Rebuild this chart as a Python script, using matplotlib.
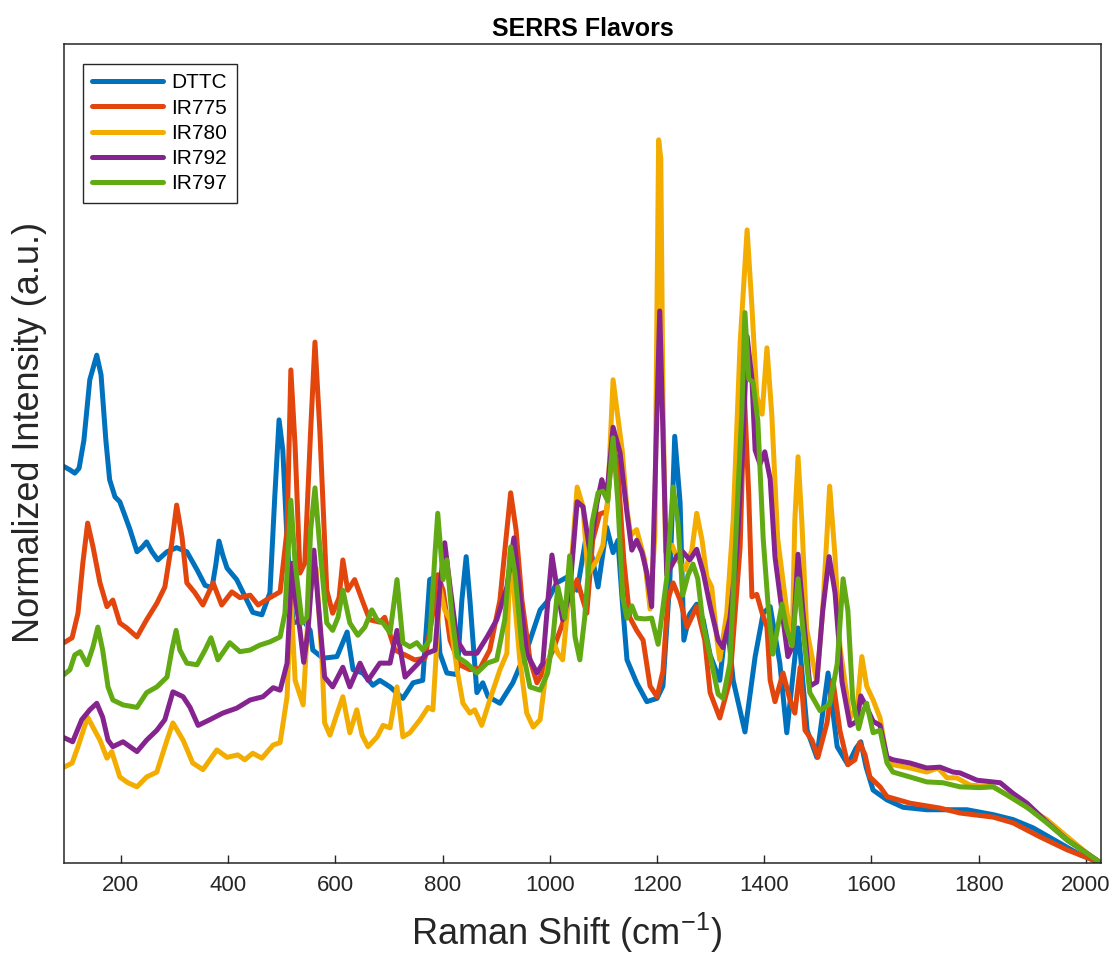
import matplotlib
matplotlib.use("Agg")
import matplotlib.pyplot as plt

plt.rcParams['font.family'] = ['Liberation Sans', 'DejaVu Sans']
plt.rcParams['mathtext.fontset'] = 'custom'
plt.rcParams['mathtext.rm'] = 'Liberation Sans'

# Raman shift (cm-1) / normalized intensity (axis height = 100)
dttc_x = [94, 105, 114, 122, 131, 142, 155, 163, 172, 179, 189, 198, 207, 217, 230, 239, 248, 258, 269, 286,
          304, 323, 342, 357, 370, 377, 383, 390, 398, 416, 428, 446, 463, 478, 487, 495, 502, 510, 521, 540,
          553, 558, 577, 603, 622, 633, 651, 670, 683, 702, 726, 745, 763, 776, 786, 795, 808, 827, 836, 844,
          851, 864, 875, 885, 907, 931, 957, 982, 995, 1013, 1032, 1051, 1069, 1080, 1090, 1106, 1118, 1127,
          1135, 1144, 1162, 1181, 1200, 1211, 1224, 1233, 1243, 1250, 1261, 1274, 1286, 1299, 1317, 1330, 1342,
          1364, 1383, 1398, 1411, 1429, 1442, 1463, 1480, 1498, 1519, 1536, 1556, 1571, 1580, 1590, 1603, 1629,
          1659, 1703, 1778, 1827, 1864, 1901, 1952, 1989, 2028]
dttc_y = [48.4, 48.0, 47.6, 48.2, 51.6, 59.0, 62.0, 59.6, 51.6, 46.8, 44.7, 44.1, 42.5, 40.7, 38.0, 38.5, 39.2,
          38.0, 37.0, 38.0, 38.5, 38.0, 35.8, 33.9, 33.6, 36.4, 39.3, 37.6, 36.0, 34.6, 33.0, 30.6, 30.3, 33.0,
          44.7, 54.1, 50.4, 39.4, 29.3, 29.7, 28.4, 26.0, 25.0, 25.2, 28.2, 23.6, 23.2, 21.7, 22.3, 21.5, 20.1,
          22.0, 22.3, 34.6, 34.9, 25.6, 23.2, 23.0, 32.1, 37.4, 32.1, 20.8, 22.0, 20.3, 19.5, 22.0, 26.0, 30.9,
          31.9, 34.2, 34.9, 33.3, 40.3, 37.0, 33.7, 41.0, 37.9, 39.4, 32.1, 24.8, 22.0, 19.7, 20.1, 21.6, 34.7,
          52.1, 44.0, 27.2, 30.4, 31.6, 29.7, 25.4, 22.3, 30.0, 22.3, 16.0, 25.2, 30.5, 31.3, 24.4, 15.9, 28.7,
          16.2, 12.9, 23.2, 14.2, 12.0, 14.0, 14.8, 11.7, 8.9, 7.7, 6.8, 6.5, 6.5, 5.9, 5.3, 4.3, 2.4, 1.0, 0.0]

ir775_x = [94, 109, 120, 129, 138, 148, 161, 174, 185, 198, 211, 230, 248, 267, 282, 295, 304, 314, 323, 338,
           353, 372, 388, 407, 422, 441, 456, 478, 497, 510, 517, 525, 534, 543, 554, 562, 571, 584, 595, 607,
           614, 623, 636, 650, 664, 683, 692, 711, 730, 748, 767, 780, 791, 801, 814, 832, 851, 870, 888, 907,
           918, 927, 937, 948, 963, 976, 991, 1006, 1023, 1037, 1051, 1060, 1069, 1080, 1093, 1106, 1118, 1127,
           1138, 1149, 1162, 1174, 1187, 1200, 1211, 1220, 1230, 1243, 1256, 1274, 1289, 1299, 1317, 1336, 1355,
           1363, 1371, 1377, 1386, 1396, 1405, 1411, 1420, 1435, 1448, 1457, 1467, 1476, 1489, 1500, 1517, 1528,
           1541, 1556, 1569, 1578, 1588, 1597, 1616, 1629, 1672, 1728, 1765, 1827, 1864, 1914, 1965, 2028]
ir775_y = [26.9, 27.5, 30.5, 36.6, 41.5, 38.6, 34.2, 31.3, 32.1, 29.3, 28.7, 27.6, 29.7, 31.7, 33.7, 39.1, 43.7,
           39.8, 34.2, 33.0, 31.5, 34.2, 31.5, 33.1, 32.4, 32.7, 31.5, 32.4, 33.1, 40.7, 60.2, 50.8, 35.4, 36.6,
           52.9, 63.6, 52.9, 33.3, 30.5, 32.4, 37.0, 33.3, 34.6, 32.1, 29.7, 29.4, 30.0, 26.0, 25.4, 24.8, 25.0,
           29.7, 35.2, 33.3, 27.2, 24.2, 23.6, 23.8, 26.0, 32.1, 39.4, 45.2, 40.7, 32.1, 24.8, 22.0, 23.8, 26.0,
           29.1, 32.1, 34.6, 32.5, 30.5, 39.4, 42.6, 42.9, 51.6, 48.0, 37.0, 30.0, 28.4, 27.2, 21.6, 20.3, 23.4,
           32.1, 34.2, 32.1, 28.8, 31.3, 27.2, 20.8, 17.7, 22.3, 38.6, 57.0, 45.0, 32.5, 32.8, 30.5, 28.8, 22.3,
           19.7, 23.2, 19.9, 18.3, 23.9, 16.2, 15.0, 12.9, 17.1, 22.3, 16.2, 12.0, 12.6, 14.7, 13.2, 10.5, 9.3,
           8.1, 7.3, 6.7, 6.1, 5.6, 4.9, 3.2, 1.6, 0.0]

ir780_x = [94, 109, 120, 138, 151, 161, 174, 183, 198, 213, 230, 248, 267, 286, 297, 316, 334, 353, 379, 398,
           418, 431, 446, 463, 484, 497, 510, 517, 525, 540, 551, 564, 575, 580, 590, 602, 614, 627, 640, 650,
           661, 678, 689, 702, 715, 726, 739, 758, 773, 782, 791, 795, 804, 814, 827, 838, 851, 860, 873, 888,
           907, 920, 926, 931, 944, 957, 969, 982, 991, 1006, 1015, 1024, 1037, 1051, 1062, 1071, 1088, 1099,
           1108, 1118, 1125, 1135, 1144, 1151, 1162, 1177, 1187, 1196, 1200, 1203, 1207, 1211, 1216, 1228, 1239,
           1252, 1265, 1274, 1284, 1293, 1302, 1312, 1317, 1330, 1342, 1355, 1368, 1377, 1386, 1396, 1405, 1414,
           1425, 1442, 1452, 1457, 1463, 1470, 1479, 1498, 1509, 1522, 1532, 1541, 1560, 1573, 1582, 1591, 1603,
           1616, 1629, 1640, 1672, 1703, 1724, 1741, 1759, 1784, 1827, 1858, 1890, 1927, 1965, 2002, 2028]
ir780_y = [11.7, 12.2, 14.2, 17.8, 16.2, 15.0, 12.8, 13.6, 10.5, 9.8, 9.3, 10.5, 11.1, 15.0, 17.1, 15.0, 12.2,
           11.4, 13.8, 12.9, 13.2, 12.6, 13.4, 12.8, 14.4, 14.7, 20.3, 32.5, 22.3, 19.3, 32.5, 36.0, 25.0, 17.1,
           15.6, 18.0, 20.3, 15.9, 18.7, 15.6, 14.2, 15.4, 16.8, 16.5, 21.5, 15.4, 15.9, 17.5, 19.0, 18.7, 28.8,
           33.7, 30.9, 29.7, 23.6, 19.5, 18.3, 18.7, 16.8, 19.9, 23.6, 25.6, 37.9, 34.6, 24.8, 18.3, 16.6, 17.5,
           22.3, 27.2, 25.6, 24.8, 33.7, 45.9, 43.5, 35.2, 37.0, 38.8, 44.3, 59.0, 55.4, 50.4, 43.1, 40.0, 40.7,
           37.0, 31.0, 40.0, 68.7, 88.3, 86.0, 56.5, 38.0, 38.8, 37.0, 35.8, 38.2, 42.7, 39.4, 34.9, 33.7, 27.2,
           24.8, 30.5, 41.8, 63.5, 77.3, 67.9, 57.0, 54.8, 62.9, 54.8, 39.6, 30.8, 26.5, 41.8, 49.6, 41.8, 28.6,
           22.1, 30.8, 46.0, 37.4, 26.5, 17.7, 19.0, 25.2, 21.6, 19.9, 17.7, 12.6, 12.0, 11.6, 11.1, 11.6, 10.4,
           10.4, 9.5, 9.3, 8.1, 6.8, 5.3, 3.2, 1.2, 0.0]

ir792_x = [94, 110, 127, 142, 155, 166, 176, 185, 204, 230, 248, 267, 282, 297, 316, 329, 344, 366, 390, 416,
           441, 465, 484, 497, 510, 519, 525, 534, 541, 549, 560, 567, 580, 595, 614, 627, 646, 661, 683, 702,
           715, 730, 752, 771, 786, 795, 804, 814, 827, 842, 864, 883, 901, 920, 933, 944, 957, 976, 987, 996,
           1004, 1013, 1024, 1037, 1051, 1062, 1075, 1088, 1097, 1106, 1118, 1131, 1144, 1153, 1162, 1172, 1181,
           1190, 1196, 1205, 1212, 1218, 1237, 1248, 1261, 1274, 1286, 1299, 1314, 1323, 1336, 1349, 1360, 1368,
           1377, 1383, 1392, 1401, 1411, 1420, 1433, 1444, 1453, 1463, 1472, 1485, 1498, 1509, 1521, 1532, 1545,
           1560, 1573, 1580, 1591, 1603, 1616, 1629, 1640, 1672, 1703, 1728, 1752, 1765, 1797, 1840, 1864, 1890,
           1927, 1965, 2028]
ir792_y = [15.3, 14.8, 17.5, 18.7, 19.5, 17.8, 15.0, 14.2, 14.8, 13.6, 15.0, 16.2, 17.5, 20.9, 20.3, 19.0, 16.8,
           17.5, 18.3, 18.9, 19.9, 20.3, 21.4, 21.1, 24.4, 36.6, 32.5, 28.4, 24.5, 28.4, 38.2, 32.5, 22.7, 21.5,
           23.9, 21.5, 24.4, 22.3, 24.4, 24.4, 28.4, 22.7, 24.2, 25.6, 26.0, 33.7, 39.1, 33.7, 27.2, 25.6, 25.6,
           27.6, 29.7, 33.7, 39.7, 33.0, 25.6, 23.2, 24.4, 31.7, 37.6, 33.7, 29.7, 33.0, 44.1, 43.5, 37.9, 44.0,
           46.8, 44.7, 53.2, 50.1, 42.7, 38.2, 39.4, 37.9, 35.4, 31.3, 45.9, 67.4, 50.0, 35.2, 37.5, 38.0, 37.0,
           38.3, 35.5, 31.4, 27.2, 26.3, 29.9, 38.2, 50.8, 64.3, 59.1, 50.4, 48.7, 50.2, 46.9, 37.4, 30.8, 25.2,
           26.5, 37.7, 30.8, 21.6, 22.1, 30.8, 37.4, 33.0, 22.1, 16.8, 17.3, 20.4, 19.0, 17.3, 16.8, 12.9, 12.6,
           12.2, 11.6, 11.7, 11.1, 11.0, 10.1, 9.8, 8.5, 7.3, 5.0, 2.8, 0.0]

ir797_x = [94, 105, 114, 124, 137, 148, 157, 166, 176, 185, 204, 230, 248, 267, 286, 295, 303, 310, 323, 342,
           357, 368, 381, 403, 422, 441, 459, 478, 497, 506, 517, 525, 538, 547, 554, 562, 571, 584, 595, 605,
           614, 627, 642, 655, 668, 678, 689, 702, 715, 726, 739, 752, 763, 776, 786, 791, 801, 808, 817, 827,
           845, 864, 883, 901, 916, 927, 935, 948, 963, 982, 996, 1006, 1015, 1028, 1037, 1047, 1056, 1065,
           1079, 1090, 1099, 1108, 1118, 1127, 1136, 1144, 1153, 1162, 1177, 1190, 1202, 1218, 1230, 1239, 1248,
           1258, 1267, 1276, 1286, 1299, 1314, 1323, 1336, 1349, 1358, 1364, 1371, 1379, 1388, 1398, 1407, 1416,
           1433, 1442, 1452, 1463, 1472, 1485, 1504, 1522, 1536, 1547, 1556, 1565, 1576, 1584, 1591, 1603, 1616,
           1629, 1640, 1672, 1703, 1733, 1765, 1802, 1827, 1858, 1890, 1927, 1965, 2028]
ir797_y = [23.0, 23.6, 25.4, 25.8, 24.2, 26.4, 28.8, 26.0, 21.5, 19.9, 19.3, 19.0, 20.8, 21.5, 22.7, 26.0, 28.4,
           26.0, 24.4, 24.2, 26.0, 27.5, 24.8, 26.9, 25.8, 26.0, 26.6, 27.0, 27.6, 30.5, 44.3, 36.6, 29.3, 30.0,
           40.7, 45.8, 38.6, 29.3, 28.4, 30.0, 33.3, 29.3, 27.8, 28.8, 30.9, 29.7, 29.3, 28.1, 34.6, 26.9, 26.4,
           26.9, 26.0, 27.2, 37.9, 42.7, 34.6, 37.0, 30.5, 25.2, 24.4, 23.2, 24.4, 24.8, 29.7, 38.6, 35.4, 26.4,
           21.5, 21.1, 23.2, 27.6, 33.7, 29.9, 37.5, 27.6, 24.8, 29.9, 41.6, 45.2, 45.4, 44.2, 51.9, 44.0, 32.4,
           29.9, 31.4, 29.9, 29.8, 29.9, 26.7, 34.7, 45.9, 41.6, 32.7, 35.2, 36.5, 34.7, 29.1, 25.3, 20.6, 20.1,
           24.4, 42.7, 54.9, 67.2, 59.1, 58.7, 54.0, 39.6, 31.6, 25.5, 31.6, 28.6, 26.5, 34.7, 28.6, 20.8, 18.6,
           19.4, 24.3, 34.7, 30.8, 19.9, 16.4, 18.5, 19.5, 15.9, 16.2, 12.2, 11.1, 10.5, 9.9, 9.8, 9.3, 9.2, 9.3,
           8.1, 6.8, 4.9, 2.8, 0.0]

names = ['DTTC', 'IR775', 'IR780', 'IR792', 'IR797']
colors = ['#0072BD', '#E2460C', '#F2AD00', '#86248F', '#62AA14']
series = [(dttc_x, dttc_y), (ir775_x, ir775_y), (ir780_x, ir780_y), (ir792_x, ir792_y), (ir797_x, ir797_y)]
xticks = [200, 400, 600, 800, 1000, 1200, 1400, 1600, 1800, 2000]

fig = plt.figure(figsize=(11.14, 9.56), dpi=100)
ax = fig.add_axes([0.0575, 0.0973, 0.9308, 0.8567])

for (xs, ys), name, c in zip(series, names, colors):
    ax.plot(xs, ys, color=c, lw=3.6, label=name, solid_joinstyle='round', solid_capstyle='round')

ax.set_xlim(94, 2028)
ax.set_ylim(0, 100)
ax.set_xticks(xticks)
ax.set_yticks([])
ax.tick_params(axis='x', direction='in', length=6, width=1, labelsize=16, pad=9,
               colors='#262626', top=False)
for sp in ax.spines.values():
    sp.set_color('#262626')
    sp.set_linewidth(1.1)

ax.set_title('SERRS Flavors', fontsize=18, fontweight='bold', pad=6)
ax.set_xlabel(r'Raman Shift (cm$^{\mathregular{-1}}$)', fontsize=26, color='#262626')
ax.set_ylabel('Normalized Intensity (a.u.)', fontsize=26, color='#262626')
ax.xaxis.set_label_coords(0.485, -0.058)
ax.yaxis.set_label_coords(-0.016, 0.5256)

leg = ax.legend(loc='upper left', bbox_to_anchor=(0.0183, 0.9756), borderaxespad=0,
                fontsize=15, handlelength=3.4, handletextpad=0.4, labelspacing=0.3,
                borderpad=0.45, fancybox=False, framealpha=1)
leg.get_frame().set_edgecolor('#262626')
leg.get_frame().set_linewidth(1.0)
for h in leg.get_lines():
    h.set_linewidth(3.6)

fig.savefig('out.png', dpi=100)
